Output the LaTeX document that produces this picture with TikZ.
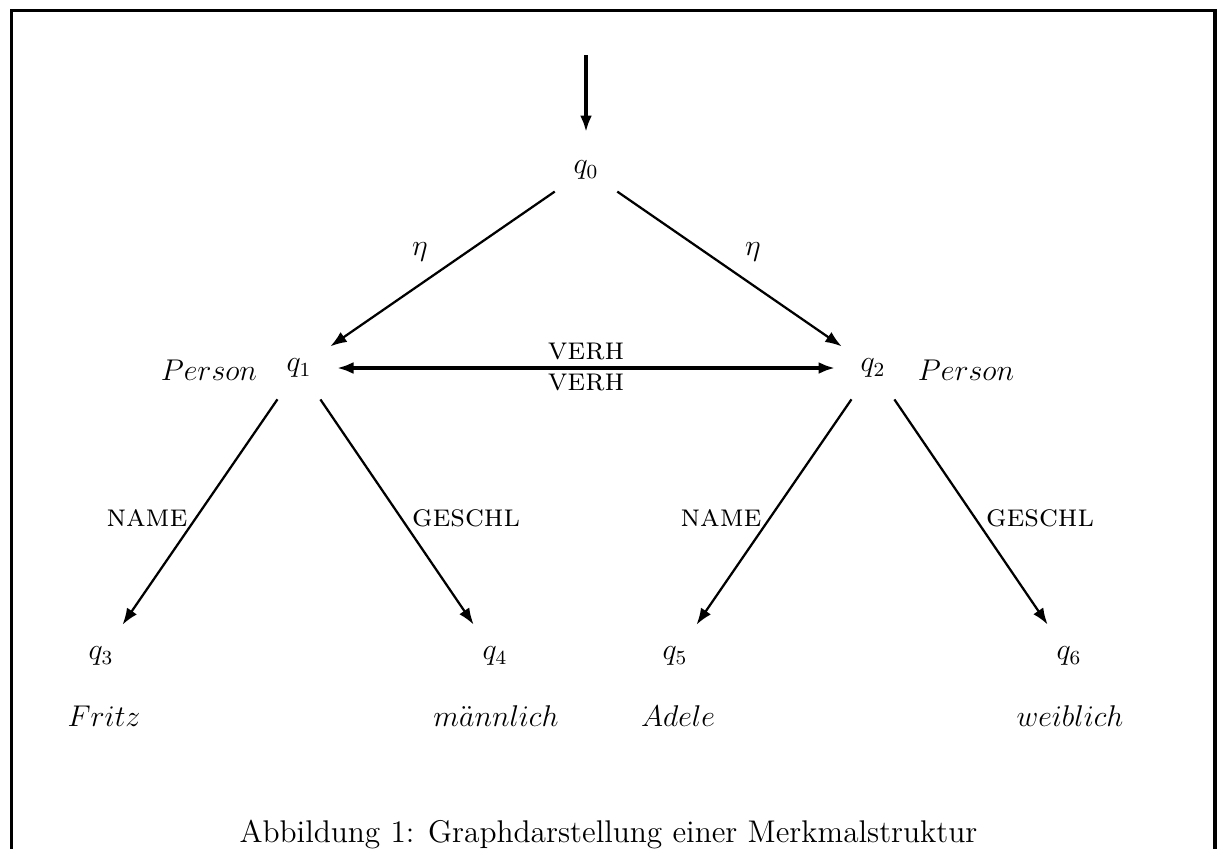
\documentclass[tikz,border=0pt]{standalone}
\usetikzlibrary{arrows.meta}
\begin{document}
\begin{tikzpicture}[x=0.4pt,y=-0.4pt,
  every node/.style={font=\fontsize{12}{14.5}\selectfont},
  state/.style={circle,minimum size=30pt,inner sep=0pt},
  elabel/.style={inner sep=0pt,font=\fontsize{12.8}{15}\selectfont},
  headtip/.style={-{Latex[length=6.6pt,width=4.8pt]}},
  bothtips/.style={{Latex[length=6.6pt,width=4.8pt]}-{Latex[length=6.6pt,width=4.8pt]}},
  thinedge/.style={headtip,line width=0.9pt},
  thickedge/.style={line width=1.35pt}]
  \useasboundingbox (0,0) rectangle (1217,848);
  % frame, open at the bottom
  \draw[line width=1.4pt] (11.5,860) -- (11.5,10.5) -- (1215,10.5) -- (1215,860);

  % states
  \node[state] (q0) at (586,170) {$q_0$};
  \node[state] (q1) at (299,368) {$q_1$};
  \node[state] (q2) at (873,368) {$q_2$};
  \node[state] (q3) at (101,656) {$q_3$};
  \node[state] (q4) at (495,656) {$q_4$};
  \node[state] (q5) at (675,656) {$q_5$};
  \node[state] (q6) at (1069,656) {$q_6$};

  % sorts and atomic values
  \node (p1) at (209,370) {$Person$};
  \node (p2) at (966,370) {$Person$};
  \node (v3) at (104,716) {$Fritz$};
  \node (v4) at (496,716) {$m\ddot{a}nnlich$};
  \node (v5) at (678,716) {$Adele$};
  \node (v6) at (1070,716) {$weiblich$};

  % entry arrow
  \coordinate (entry) at (586,55);
  \draw[thickedge,headtip] (entry) -- (q0);

  % edges
  \draw[thinedge] (q0) -- (q1);
  \draw[thinedge] (q0) -- (q2);
  \draw[thickedge,bothtips] (q1) -- (q2);
  \draw[thinedge] (q1) -- (q3);
  \draw[thinedge] (q1) -- (q4);
  \draw[thinedge] (q2) -- (q5);
  \draw[thinedge] (q2) -- (q6);

  % edge labels
  \node[elabel] (l01) at (420,252) {$\eta$};
  \node[elabel] (l02) at (753,252) {$\eta$};
  \node[elabel] (l12a) at (586,351) {\textsc{verh}};
  \node[elabel] (l12b) at (586,382) {\textsc{verh}};
  \node[elabel] (l13) at (147,518) {\textsc{name}};
  \node[elabel] (l14) at (466,518) {\textsc{geschl}};
  \node[elabel] (l25) at (721,518) {\textsc{name}};
  \node[elabel] (l26) at (1040,518) {\textsc{geschl}};

  % caption
  \node[anchor=base,font=\fontsize{12.55}{15}\selectfont] (cap) at (608.5,842) {Abbildung 1: Graphdarstellung einer Merkmalstruktur};
\end{tikzpicture}
\end{document}
